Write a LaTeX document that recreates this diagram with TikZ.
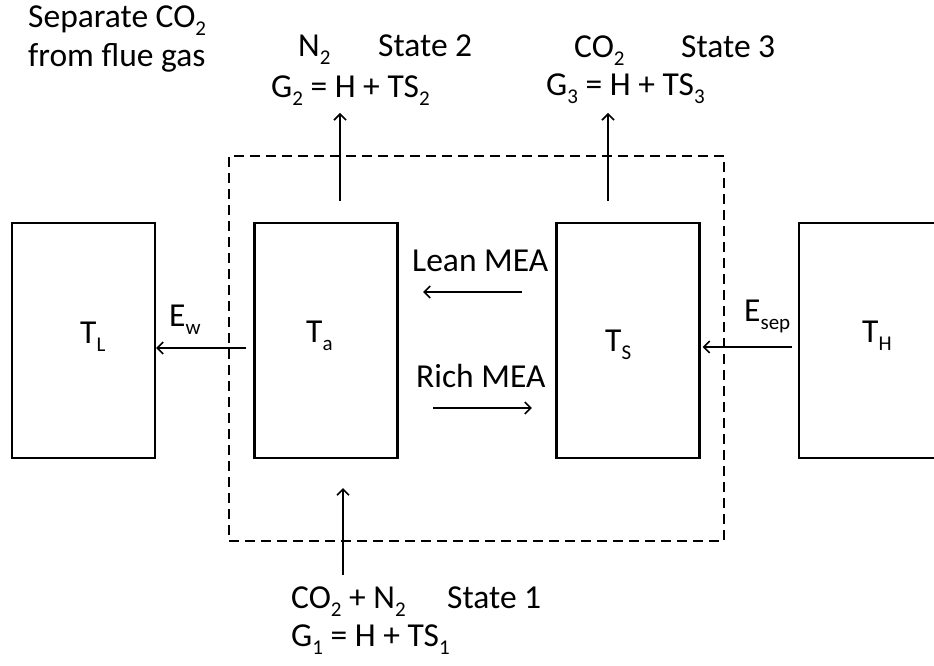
\documentclass[tikz,border=0pt]{standalone}
\usepackage{fontspec}
\setmainfont{Carlito}
\usetikzlibrary{arrows.meta,positioning}
\newcommand{\mainsize}{\fontsize{33.5}{40}\selectfont}
\newcommand{\sub}[1]{\raisebox{-8pt}{\fontsize{21}{21}\selectfont #1}}
\tikzset{
  chamber/.style={draw, line width=2.2pt, minimum width=143pt, minimum height=235pt, inner sep=0pt},
  boundary/.style={draw, line width=1.9pt, dash pattern=on 10pt off 6pt,
    minimum width=495pt, minimum height=385pt, inner sep=0pt},
  flow/.style={-{Straight Barb[length=6pt, width=12pt]}, line width=1.6pt},
  tag/.style={anchor=base west, inner sep=0pt, font=\mainsize}
}

\begin{document}
\begin{tikzpicture}[x=1pt, y=1pt]
  \useasboundingbox (0,0) rectangle (934,666);
  % reservoirs and columns
  \node[chamber] (TL) at (83.5,325.5) {};
  \node[chamber] (Ta) at (326,325.5) {};
  \node[chamber] (TS) at (628,325.5) {};
  \node[chamber] (TH) at (870.5,325.5) {};
  \node[boundary] (plant) at (476.5,317.5) {};
  \node[tag] (TLtext) at (80,322) {T\sub{L}};
  \node[tag] (Tatext) at (306,323) {T\sub{a}};
  \node[tag] (TStext) at (605,314) {T\sub{S}};
  \node[tag] (THtext) at (862,323) {T\sub{H}};
  % captions and states
  \node[tag] (title) at (28,638) {Separate CO\sub{2}};
  \node[tag] (title2) at (28,599) {from flue gas};
  \node[tag] (n2gas) at (298,609) {N\sub{2}};
  \node[tag] (state2) at (378,609) {State 2};
  \node[tag] (g2) at (271,568) {G\sub{2} = H + TS\sub{2}};
  \node[tag] (co2gas) at (574,608) {CO\sub{2}};
  \node[tag] (state3) at (681,608) {State 3};
  \node[tag] (g3) at (546,570) {G\sub{3} = H + TS\sub{3}};
  \node[tag] (feed) at (291,57) {CO\sub{2} + N\sub{2}};
  \node[tag] (state1) at (447,57) {State 1};
  \node[tag] (g1) at (291,19) {G\sub{1} = H + TS\sub{1}};
  \node[tag] (lean) at (412,394) {Lean MEA};
  \node[tag] (rich) at (416,278) {Rich MEA};
  \node[tag] (ew) at (169,339) {E\sub{w}};
  \node[tag] (esep) at (744,344) {E\sub{sep}};
  \coordinate (N2out) at (340,553);
  \coordinate (CO2out) at (608,553);
  \coordinate (feedin) at (343,91);
  % streams
  \draw[flow] ([xshift=14pt,yshift=21pt]Ta.north) -- (N2out);
  \draw[flow] ([xshift=-20pt,yshift=21pt]TS.north) -- (CO2out);
  \draw[flow] (feedin) -- ([xshift=17pt,yshift=-29pt]Ta.south);
  \draw[flow] ([xshift=-33.5pt,yshift=48.5pt]TS.west) -- ([xshift=24.5pt,yshift=48.5pt]Ta.east);
  \draw[flow] ([xshift=34.5pt,yshift=-67.5pt]Ta.east) -- ([xshift=-23.5pt,yshift=-67.5pt]TS.west);
  % energy flows
  \draw[flow] ([xshift=-7pt,yshift=-7.5pt]Ta.west) -- ([yshift=-7.5pt]TL.east);
  \draw[flow] ([xshift=-6pt,yshift=-6.5pt]TH.west) -- ([xshift=2pt,yshift=-6.5pt]TS.east);
\end{tikzpicture}
\end{document}
